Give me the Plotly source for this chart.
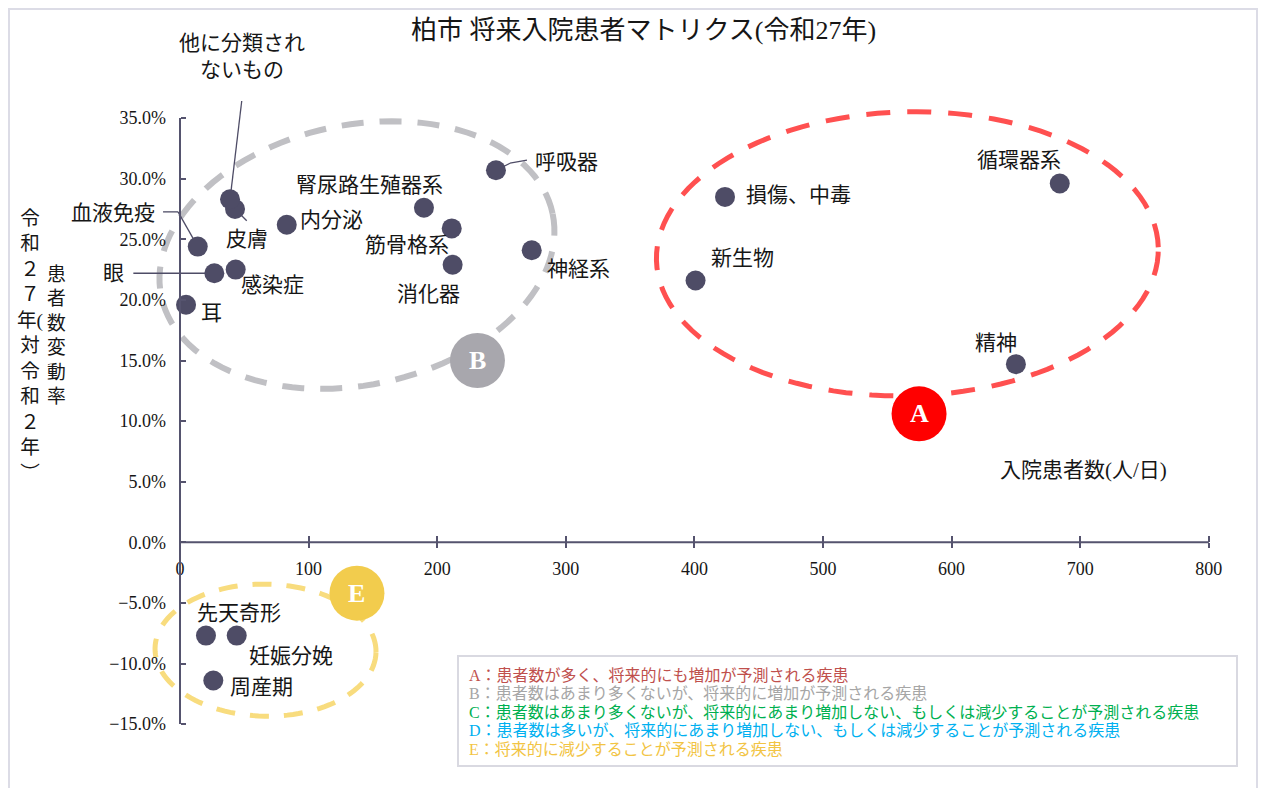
import math
import plotly.graph_objects as go

# ---------------------------------------------------------------- data
diseases = [
    "呼吸器", "腎尿路生殖器系", "内分泌", "筋骨格系", "消化器", "神経系",
    "皮膚", "他に分類されないもの", "血液免疫", "眼", "感染症", "耳",
    "損傷、中毒", "新生物", "循環器系", "精神",
    "先天奇形", "妊娠分娩", "周産期",
]
# 入院患者数（人/日）
inpatients = [
    245.7, 189.7, 83.0, 211.3, 212.0, 273.5,
    42.8, 38.9, 13.8, 26.7, 43.3, 4.7,
    423.8, 400.9, 684.1, 650.0,
    20.2, 44.1, 25.9,
]
# 患者数変動率（令和27年 対 令和2年, %）
change_rate = [
    30.7, 27.6, 26.2, 25.9, 22.9, 24.1,
    27.5, 28.3, 24.4, 22.2, 22.5, 19.6,
    28.5, 21.6, 29.6, 14.7,
    -7.7, -7.7, -11.4,
]
x_ticks = [0, 100, 200, 300, 400, 500, 600, 700, 800]
y_ticks = [-15, -10, -5, 0, 5, 10, 15, 20, 25, 30, 35]
y_tick_labels = [f"{v:.1f}%".replace("-", "\u2212") for v in y_ticks]

groups = ["A", "B", "C", "D", "E"]
group_desc = [
    "患者数が多く、将来的にも増加が予測される疾患",
    "患者数はあまり多くないが、将来的に増加が予測される疾患",
    "患者数はあまり多くないが、将来的にあまり増加しない、もしくは減少することが予測される疾患",
    "患者数は多いが、将来的にあまり増加しない、もしくは減少することが予測される疾患",
    "将来的に減少することが予測される疾患",
]

# ---------------------------------------------------------------- styling
W, H = 1264, 788
FONT = "Liberation Serif, Noto Sans CJK JP, serif"
TEXT = "#161616"
AXIS = "#55536e"
MARKER = "#4e4c66"
GROUP_COLORS = {"A": "#c0504d", "B": "#a6a6a6", "C": "#00b050",
                "D": "#00b0f0", "E": "#f2c443"}

# pixel layout of the data origin and scale (plot area spans the whole page)
X0_PX, X_PX_PER_UNIT = 180.0, 1.286
Y0_PX, Y_PX_PER_UNIT = 542.3, 12.12
x_range = [-X0_PX / X_PX_PER_UNIT, (W - X0_PX) / X_PX_PER_UNIT]
y_range = [-(H - Y0_PX) / Y_PX_PER_UNIT, Y0_PX / Y_PX_PER_UNIT]


def px_x(px):
    return px / W


def px_y(py):
    return 1 - py / H


def data_x_paper(x):
    return (x - x_range[0]) / (x_range[1] - x_range[0])


def data_y_paper(y):
    return (y - y_range[0]) / (y_range[1] - y_range[0])


def ellipse_path(a, b, angle_deg, steps=120):
    """Closed SVG path of a rotated ellipse, in pixels around its anchor."""
    th = math.radians(angle_deg)
    pts = []
    for k in range(steps):
        t = 2 * math.pi * k / steps
        ex, ey = a * math.cos(t), b * math.sin(t)
        pts.append((ex * math.cos(th) - ey * math.sin(th),
                    ex * math.sin(th) + ey * math.cos(th)))
    return "M " + " L ".join(f"{x:.2f},{y:.2f}" for x, y in pts) + " Z"


# label placement relative to each point (pixels, y up)
label_offsets = {
    "呼吸器": (71, 8), "腎尿路生殖器系": (-54, 23), "内分泌": (45, 5),
    "筋骨格系": (-45, -17), "消化器": (-24, -29), "神経系": (47, -19),
    "皮膚": (12, -30), "他に分類されないもの": (12, 143), "血液免疫": (-85, 34),
    "眼": (-101, 0), "感染症": (37, -15), "耳": (25, -8),
    "損傷、中毒": (73, 2), "新生物": (47, 23), "循環器系": (-41, 24),
    "精神": (-20, 21), "先天奇形": (33, 23), "妊娠分娩": (54, -20),
    "周産期": (48, -7),
}
label_text = {"他に分類されないもの": "他に分類され<br>ないもの"}

# leader lines: pixel polylines starting at the point
leaders = {
    "他に分類されないもの": [(0, 0), (11.7, 98.3)],
    "血液免疫": [(0, 0), (-19.7, 34.7), (-34.7, 34.7)],
    "眼": [(0, 0), (-81, 0)],
    "皮膚": [(0, 0), (11.7, -11.7)],
    "呼吸器": [(0, 0), (14, 7), (31, 10)],
}

fig = go.Figure()

# group ellipses: anchor (data), semi-axes (px), rotation (deg)
ellipses = [
    dict(cx=565.6, cy=23.8, a=251, b=142, rot=1.5, color="#ff5050", width=5, dash="24px,17px"),
    dict(cx=137.6, cy=23.7, a=200, b=130, rot=12, color="#c0c0c4", width=6, dash="22px,16px"),
    dict(cx=66.5, cy=-8.9, a=110.5, b=66, rot=-1, color="#f8dc7e", width=5, dash="19px,15px"),
]
for e in ellipses:
    fig.add_shape(type="path", xref="x", yref="y", xsizemode="pixel", ysizemode="pixel",
                  xanchor=e["cx"], yanchor=e["cy"], path=ellipse_path(e["a"], e["b"], e["rot"]),
                  layer="below",
                  line=dict(color=e["color"], width=e["width"], dash=e["dash"]))

# axis lines through the origin
fig.add_shape(type="line", xref="x", yref="y", x0=0, x1=0,
              y0=min(y_ticks), y1=max(y_ticks), line=dict(color=AXIS, width=2))
fig.add_shape(type="line", xref="x", yref="y", x0=min(x_ticks), x1=max(x_ticks),
              y0=0, y1=0, line=dict(color=AXIS, width=2))

# leader lines
for name, pts in leaders.items():
    i = diseases.index(name)
    for (ax0, ay0), (ax1, ay1) in zip(pts[:-1], pts[1:]):
        fig.add_shape(type="line", xref="x", yref="y",
                      xsizemode="pixel", ysizemode="pixel",
                      xanchor=inpatients[i], yanchor=change_rate[i],
                      x0=ax0, x1=ax1, y0=ay0, y1=ay1, layer="below",
                      line=dict(color="#4e4c66", width=1.3))

# points
fig.add_trace(go.Scatter(
    x=inpatients, y=change_rate, mode="markers", text=diseases,
    hovertemplate="%{text}<br>%{x}人/日<br>%{y:.1f}%<extra></extra>",
    marker=dict(size=20, color=MARKER), showlegend=False, cliponaxis=False,
))
# carrier for the overlaid tick axis
fig.add_trace(go.Scatter(x=[0], y=[0], xaxis="x2", mode="markers",
                         marker=dict(opacity=0), hoverinfo="skip", showlegend=False))

# point labels
for name, x, y in zip(diseases, inpatients, change_rate):
    dx, dy = label_offsets[name]
    fig.add_annotation(x=x, y=y, xref="x", yref="y", text=label_text.get(name, name),
                       showarrow=False, xshift=dx, yshift=dy,
                       xanchor="center", yanchor="middle",
                       font=dict(family=FONT, size=21, color=TEXT))

# group badges
badges = [("A", 574.7, 10.6, "#ff0000"), ("B", 231.3, 15.0, "#a8a7ad"), ("E", 137.6, -4.2, "#f2cc4d")]
for letter, bx, by, col in badges:
    fig.add_shape(type="circle", xref="x", yref="y", xsizemode="pixel", ysizemode="pixel",
                  xanchor=bx, yanchor=by, x0=-27.5, x1=27.5, y0=-27.5, y1=27.5,
                  fillcolor=col, line=dict(width=0), layer="above")
    fig.add_annotation(x=bx, y=by, xref="x", yref="y", text=f"<b>{letter}</b>", showarrow=False,
                       xanchor="center", yanchor="middle",
                       font=dict(family="Liberation Serif", size=26, color="white"))

# legend box
fig.add_shape(type="rect", xref="paper", yref="paper",
              x0=px_x(458), x1=px_x(1237), y0=px_y(766), y1=px_y(656),
              line=dict(color="#d9d9e1", width=2), fillcolor="white")
for k, (g, desc) in enumerate(zip(groups, group_desc)):
    fig.add_annotation(x=px_x(467), y=px_y(675 + 18.6 * k), xref="paper", yref="paper",
                       xanchor="left", yanchor="middle", showarrow=False,
                       text=f"{g}：{desc}",
                       font=dict(family=FONT, size=16, color=GROUP_COLORS[g]))

# chart frame
fig.add_shape(type="rect", xref="paper", yref="paper",
              x0=px_x(9), x1=px_x(1257), y0=-0.05, y1=px_y(9),
              line=dict(color="#dcdce6", width=2), layer="below")


def paper_text(px, py, text, size, **kw):
    fig.add_annotation(x=px_x(px), y=px_y(py), xref="paper", yref="paper", showarrow=False,
                       xanchor="center", yanchor="middle", text=text,
                       font=dict(family=FONT, size=size, color=TEXT), **kw)


# title
paper_text(643, 30, "柏市 将来入院患者マトリクス(令和27年)", 26)

# axis titles (y title written vertically in two columns)
paper_text(1083, 470, "入院患者数(人/日)", 21)
y_title_left = ["令", "和", "２", "７", "年(", "対", "令", "和", "２", "年", "︶"]
y_title_right = list("患者数変動率")
paper_text(30, 345.5, "<br>".join(y_title_left), 19.6)
paper_text(56, 336, "<br>".join(y_title_right), 18.8)

tickfont = dict(family=FONT, size=18, color=TEXT)
fig.update_layout(
    width=W, height=H, autosize=False,
    margin=dict(l=0, r=0, t=0, b=0, pad=0),
    plot_bgcolor="white", paper_bgcolor="white",
    xaxis=dict(range=x_range, domain=[0, 1], anchor="free", position=data_y_paper(0),
               tickvals=x_ticks, ticks="outside", ticklen=5, tickwidth=2, tickcolor=AXIS,
               showline=False, showgrid=False, zeroline=False, tickfont=tickfont,
               ticklabelstandoff=5, automargin=False, fixedrange=True),
    xaxis2=dict(range=x_range, domain=[0, 1], overlaying="x", anchor="free",
                position=data_y_paper(0), tickvals=x_ticks, ticks="inside", ticklen=6,
                tickwidth=2, tickcolor=AXIS, showticklabels=False, showline=False,
                showgrid=False, zeroline=False, automargin=False, fixedrange=True),
    yaxis=dict(range=y_range, domain=[0, 1], anchor="free", position=data_x_paper(0),
               tickvals=y_ticks, ticktext=y_tick_labels,
               ticks="inside", ticklen=5, tickwidth=2, tickcolor=AXIS,
               showline=False, showgrid=False, zeroline=False, tickfont=tickfont,
               ticklabelstandoff=14, automargin=False, fixedrange=True),
)

fig.write_html("out.html")
